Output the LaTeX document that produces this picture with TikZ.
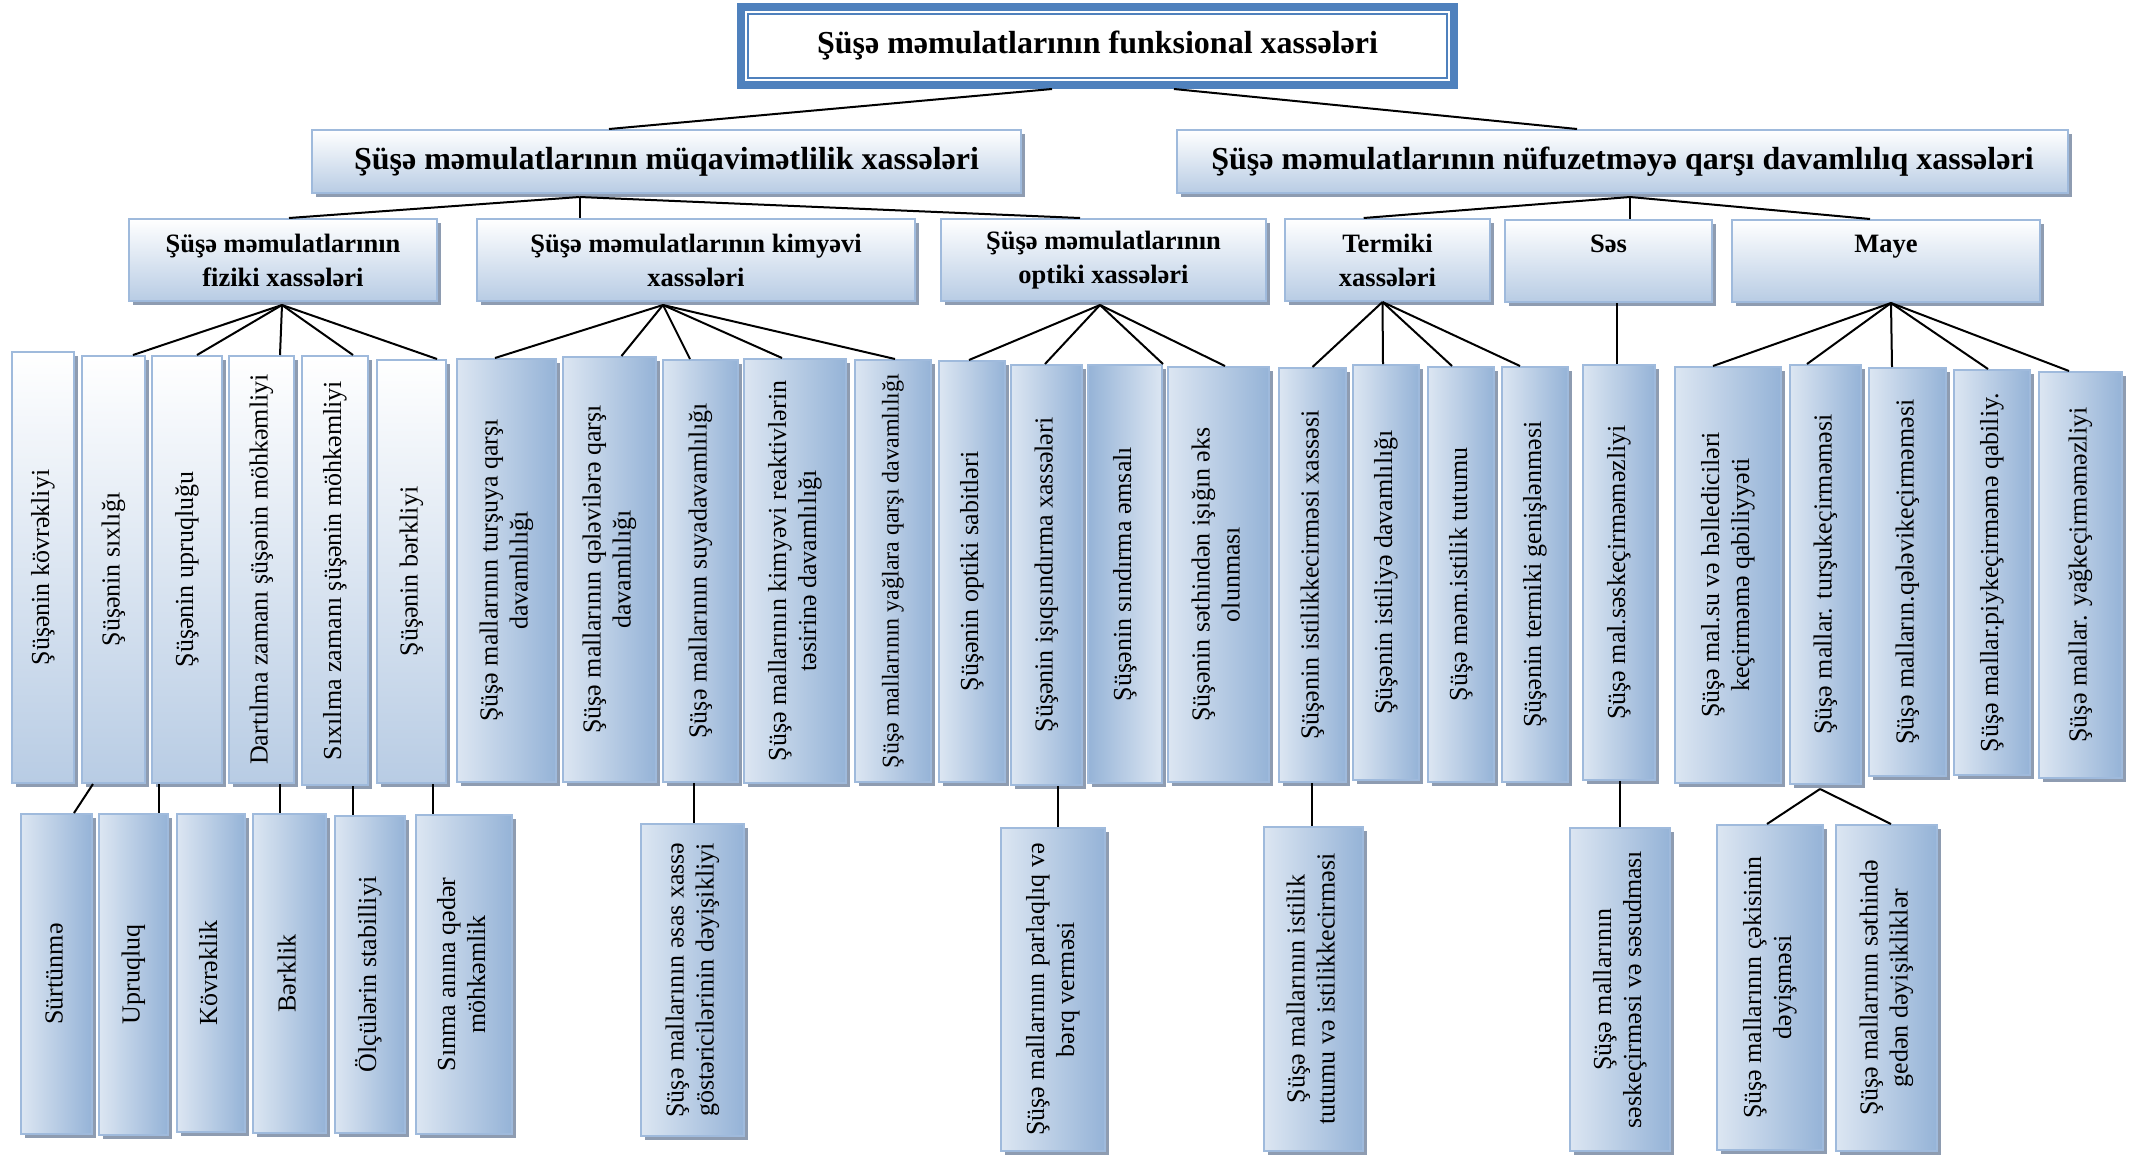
\documentclass[tikz,border=0pt]{standalone}
\usepackage{fontspec}
\setmainfont{Liberation Serif}
\usepackage{graphicx}
\usetikzlibrary{shadows}
\definecolor{frameblue}{HTML}{4F81BD}
\definecolor{edgeblue}{HTML}{9FBADC}
\definecolor{shadowgray}{HTML}{8E9CB1}
\definecolor{hdrbottom}{HTML}{B8CCE4}
\definecolor{gradlight}{HTML}{DCE6F2}
\definecolor{graddark}{HTML}{95B3D7}
% rotated (bottom-to-top) label, lines centred
\newcommand\vtxt[1]{\rotatebox{90}{\begin{tabular}{@{}c@{}}#1\end{tabular}}}

\begin{document}
\begin{tikzpicture}[x=1pt,y=-1pt,
  conn/.style={line width=2pt, black},
  card/.style={draw=edgeblue, line width=2pt, inner sep=0pt, align=center,
    drop shadow={shadow xshift=4pt, shadow yshift=-4pt, fill=shadowgray, opacity=1}},
  headbox/.style={card, top color=white, bottom color=hdrbottom,
    font=\bfseries\fontsize{32}{38}\selectfont},
  groupbox/.style={card, top color=white, bottom color=hdrbottom,
    font=\bfseries\fontsize{26.5}{34}\selectfont},
  tallbox/.style={card, top color=white, bottom color=hdrbottom,
    font=\fontsize{26}{30}\selectfont},
  leafbox/.style={card, left color=gradlight, right color=graddark,
    font=\fontsize{26}{30}\selectfont},
  leafboxr/.style={card, left color=graddark, right color=gradlight,
    font=\fontsize{26}{30}\selectfont},
]
\fill[white] (0,0) rectangle (2134,1157);
\useasboundingbox (0,0) rectangle (2134,1157);

% ---- root ----
\node[draw=frameblue, line width=8pt, fill=white, inner sep=0pt,
  minimum width=713pt, minimum height=78pt,
  font=\bfseries\fontsize{32}{38}\selectfont] (title) at (1097.5,46)
  {Şüşə məmulatlarının funksional xassələri};
\draw[frameblue, line width=2pt] ([shift={(11pt,-11pt)}]title.north west)
  rectangle ([shift={(-11pt,11pt)}]title.south east);

% ---- first level ----
\node[headbox, minimum width=709pt, minimum height=63pt] (muq) at (666.5,161.5)
  {Şüşə məmulatlarının müqavimətlilik xassələri};
\node[headbox, minimum width=891pt, minimum height=63pt] (nuf) at (1622.5,161.5)
  {Şüşə məmulatlarının nüfuzetməyə qarşı davamlılıq xassələri};

% ---- second level ----
\node[groupbox, minimum width=308pt, minimum height=82pt] (fiz) at (283,260)
  {Şüşə məmulatlarının\\fiziki xassələri};
\node[groupbox, minimum width=438pt, minimum height=82pt] (kim) at (696,260)
  {Şüşə məmulatlarının kimyəvi\\xassələri};
\node[groupbox, minimum width=325pt, minimum height=82pt] (opt) at (1103.5,260)
  {Şüşə məmulatlarının\\optiki xassələri};
\node[groupbox, minimum width=205pt, minimum height=82pt] (ter) at (1387.5,260)
  {Termiki\\xassələri};
\node[groupbox, minimum width=207pt, minimum height=82pt] (ses) at (1608.5,261)
  {Səs\\\phantom{xassələri}};
\node[groupbox, minimum width=308pt, minimum height=82pt] (may) at (1886,261)
  {Maye\\\phantom{xassələri}};

% ---- physical properties ----
\node[tallbox, minimum width=62pt, minimum height=431pt] (p1) at (43,567.5) {\vtxt{Şüşənin kövrəkliyi}};
\node[tallbox, minimum width=63pt, minimum height=427pt] (p2) at (113.5,569.5) {\vtxt{Şüşənin sıxlığı}};
\node[tallbox, minimum width=70pt, minimum height=427pt] (p3) at (187,569.5) {\vtxt{Şüşənin upruqluğu}};
\node[tallbox, minimum width=65pt, minimum height=427pt] (p4) at (261.5,569.5) {\vtxt{Dartılma zamanı şüşənin möhkəmliyi}};
\node[tallbox, minimum width=66pt, minimum height=429pt] (p5) at (335,570.5) {\vtxt{Sıxılma zamanı şüşənin möhkəmliyi}};
\node[tallbox, minimum width=69pt, minimum height=423pt] (p6) at (411.5,571.5) {\vtxt{Şüşənin bərkliyi}};

% ---- chemical properties ----
\node[leafbox, minimum width=99pt, minimum height=423pt] (k1) at (506.5,570.5) {\vtxt{Şüşə mallarının turşuya qarşı\\davamlılığı}};
\node[leafbox, minimum width=93pt, minimum height=425pt] (k2) at (609.5,569.5) {\vtxt{Şüşə mallarının qələvilərə qarşı\\davamlılığı}};
\node[leafbox, minimum width=75pt, minimum height=422pt] (k3) at (700.5,571) {\vtxt{Şüşə mallarının suyadavamlılığı}};
\node[leafbox, minimum width=102pt, minimum height=424pt] (k4) at (795,571) {\vtxt{Şüşə mallarının kimyəvi reaktivlərin\\təsirinə davamlılığı}};
\node[leafbox, minimum width=76pt, minimum height=422pt, font=\fontsize{24}{28}\selectfont] (k5) at (893,571) {\vtxt{Şüşə mallarının yağlara qarşı davamlılığı}};

% ---- optical properties ----
\node[leafbox, minimum width=66pt, minimum height=421pt] (o1) at (972,571.5) {\vtxt{Şüşənin optiki sabitləri}};
\node[leafbox, minimum width=71pt, minimum height=420pt] (o2) at (1046.5,575) {\vtxt{Şüşənin işıqsındırma xassələri}};
\node[leafboxr, minimum width=74pt, minimum height=418pt] (o3) at (1125,574) {\vtxt{Şüşənin sındırma əmsalı}};
\node[leafbox, minimum width=101pt, minimum height=415pt] (o4) at (1218.5,574.5) {\vtxt{Şüşənin səthindən işığın əks\\olunması}};

% ---- thermal properties ----
\node[leafbox, minimum width=67pt, minimum height=414pt] (t1) at (1312.5,575) {\vtxt{Şüşənin istilikkecirməsi xassəsi}};
\node[leafbox, minimum width=66pt, minimum height=415pt] (t2) at (1386,572.5) {\vtxt{Şüşənin istiliyə davamlılığı}};
\node[leafbox, minimum width=66pt, minimum height=415pt] (t3) at (1461,574.5) {\vtxt{Şüşə məm.istilik tutumu}};
\node[leafbox, minimum width=66pt, minimum height=415pt] (t4) at (1535,574.5) {\vtxt{Şüşənin termiki genişlənməsi}};

% ---- sound ----
\node[leafbox, minimum width=72pt, minimum height=415pt] (s1) at (1619,572.5) {\vtxt{Şüşə mal.səskeçirməməzliyi}};

% ---- liquids ----
\node[leafbox, minimum width=106pt, minimum height=416pt] (m1) at (1728,575) {\vtxt{Şüşə mal.su və həllediciləri\\keçirməmə qabiliyyəti}};
\node[leafbox, minimum width=71pt, minimum height=419pt] (m2) at (1825.5,574.5) {\vtxt{Şüşə mallar. turşukeçirməməsi}};
\node[leafbox, minimum width=77pt, minimum height=408pt] (m3) at (1907.5,572) {\vtxt{Şüşə malların.qələvikeçirməməsi}};
\node[leafbox, minimum width=76pt, minimum height=405pt] (m4) at (1992,572.5) {\vtxt{Şüşə mallar.piykeçirməmə qabiliy.}};
\node[leafbox, minimum width=83pt, minimum height=406pt] (m5) at (2080.5,575) {\vtxt{Şüşə mallar. yağkeçirməməzliyi}};

% ---- bottom row ----
\node[leafbox, minimum width=71pt, minimum height=320pt] (ps) at (56.5,974) {\vtxt{Sürtünmə}};
\node[leafbox, minimum width=69pt, minimum height=321pt] (pu) at (133.5,974.5) {\vtxt{Upruqluq}};
\node[leafbox, minimum width=68pt, minimum height=318pt] (pk) at (211,973) {\vtxt{Kövrəklik}};
\node[leafbox, minimum width=73pt, minimum height=319pt] (pb) at (289.5,973.5) {\vtxt{Bərklik}};
\node[leafbox, minimum width=70pt, minimum height=317pt] (po) at (370,974.5) {\vtxt{Ölçülərin stabilliyi}};
\node[leafbox, minimum width=96pt, minimum height=319pt] (pm) at (464,974.5) {\vtxt{Sınma anına qədər\\möhkəmlik}};
\node[leafbox, minimum width=103pt, minimum height=312pt] (k3b) at (692.5,980) {\vtxt{Şüşə mallarının əsas xassə\\göstəricilərinin dəyişikliyi}};
\node[leafbox, minimum width=104pt, minimum height=323pt] (o2b) at (1053,989.5) {\vtxt{Şüşə mallarının parlaqlıq və\\bərq verməsi}};
\node[leafbox, minimum width=99pt, minimum height=324pt] (t1b) at (1313.5,989) {\vtxt{Şüşə mallarının istilik\\tutumu və istilikkecirməsi}};
\node[leafbox, minimum width=100pt, minimum height=323pt] (s1b) at (1620,989.5) {\vtxt{Şüşə mallarının\\səskeçirməsi və səsudması}};
\node[leafbox, minimum width=106pt, minimum height=325pt] (m2a) at (1770,987.5) {\vtxt{Şüşə mallarının çəkisinin\\dəyişməsi}};
\node[leafbox, minimum width=101pt, minimum height=326pt] (m2b) at (1886.5,988) {\vtxt{Şüşə mallarının səthində\\gedən dəyişikliklər}};

% ---- connectors: root to first level ----
\draw[conn] ([xshift=-45.5pt]title.south) -- ([xshift=-57.5pt]muq.north);
\draw[conn] ([xshift=76.5pt]title.south) -- ([xshift=-45.5pt]nuf.north);

% ---- first level to second level ----
\coordinate (muqhub) at ([xshift=-87pt,yshift=-3pt]muq.south);
\coordinate (nufhub) at ([xshift=7.5pt,yshift=-3pt]nuf.south);
\draw[conn] (muqhub) -- ([xshift=6pt]fiz.north);
\draw[conn] (muqhub) -- ([xshift=-116.5pt]kim.north);
\draw[conn] (muqhub) -- ([xshift=-23.5pt]opt.north);
\draw[conn] (nufhub) -- ([xshift=-23.8pt]ter.north);
\draw[conn] (nufhub) -- ([xshift=21.5pt]ses.north);
\draw[conn] (nufhub) -- ([xshift=-16pt]may.north);

% ---- second level to third level ----
\coordinate (fizhub) at ([xshift=-1pt,yshift=-3pt]fiz.south);
\foreach \n/\dx in {p2/19.5, p3/10, p4/18.5, p5/18, p6/25.5}
  \draw[conn] (fizhub) -- ([xshift=\dx pt]\n.north);
\coordinate (kimhub) at ([xshift=-33pt,yshift=-3pt]kim.south);
\foreach \n/\dx in {k1/-11.5, k2/12, k3/-10.5, k4/-13, k5/2}
  \draw[conn] (kimhub) -- ([xshift=\dx pt]\n.north);
\coordinate (opthub) at ([xshift=-3.5pt,yshift=-3pt]opt.south);
\foreach \n/\dx in {o1/-3, o2/-1.5, o4/6.5}
  \draw[conn] (opthub) -- ([xshift=\dx pt]\n.north);
\draw[conn] (opthub) -- (o3.north east);
\coordinate (terhub) at ([xshift=-5pt]ter.south);
\foreach \n/\dx in {t1/0, t2/-3, t3/-9, t4/-15}
  \draw[conn] (terhub) -- ([xshift=\dx pt]\n.north);
\draw[conn] ([xshift=8.5pt]ses.south) -- ([xshift=-2pt]s1.north);
\coordinate (mayhub) at ([xshift=5pt]may.south);
\foreach \n/\dx in {m1/-15, m2/-18.5, m3/-15.5, m4/-4, m5/-11.5}
  \draw[conn] (mayhub) -- ([xshift=\dx pt]\n.north);

% ---- third level to bottom row ----
\draw[conn] ([xshift=-20.5pt]p2.south) -- ([xshift=17.5pt]ps.north);
\draw[conn] ([xshift=-28pt]p3.south) -- ([xshift=25.5pt]pu.north);
\draw[conn] ([xshift=18.5pt]p4.south) -- ([xshift=-9.5pt]pb.north);
\draw[conn] ([xshift=18pt]p5.south) -- ([xshift=-17pt]po.north);
\draw[conn] ([xshift=21.5pt]p6.south) -- ([xshift=-31pt]pm.north);
\draw[conn] ([xshift=-6.5pt]k3.south) -- ([xshift=1.5pt]k3b.north);
\draw[conn] ([xshift=11.5pt]o2.south) -- ([xshift=5pt]o2b.north);
\draw[conn] ([xshift=-0.5pt]t1.south) -- ([xshift=-1.5pt]t1b.north);
\draw[conn] ([xshift=1pt]s1.south) -- (s1b.north);
\coordinate (m2hub) at ([xshift=-5.5pt,yshift=-4pt]m2.south);
\draw[conn] (m2hub) -- ([xshift=-3pt]m2a.north);
\draw[conn] (m2hub) -- ([xshift=4.5pt]m2b.north);
\end{tikzpicture}
\end{document}
